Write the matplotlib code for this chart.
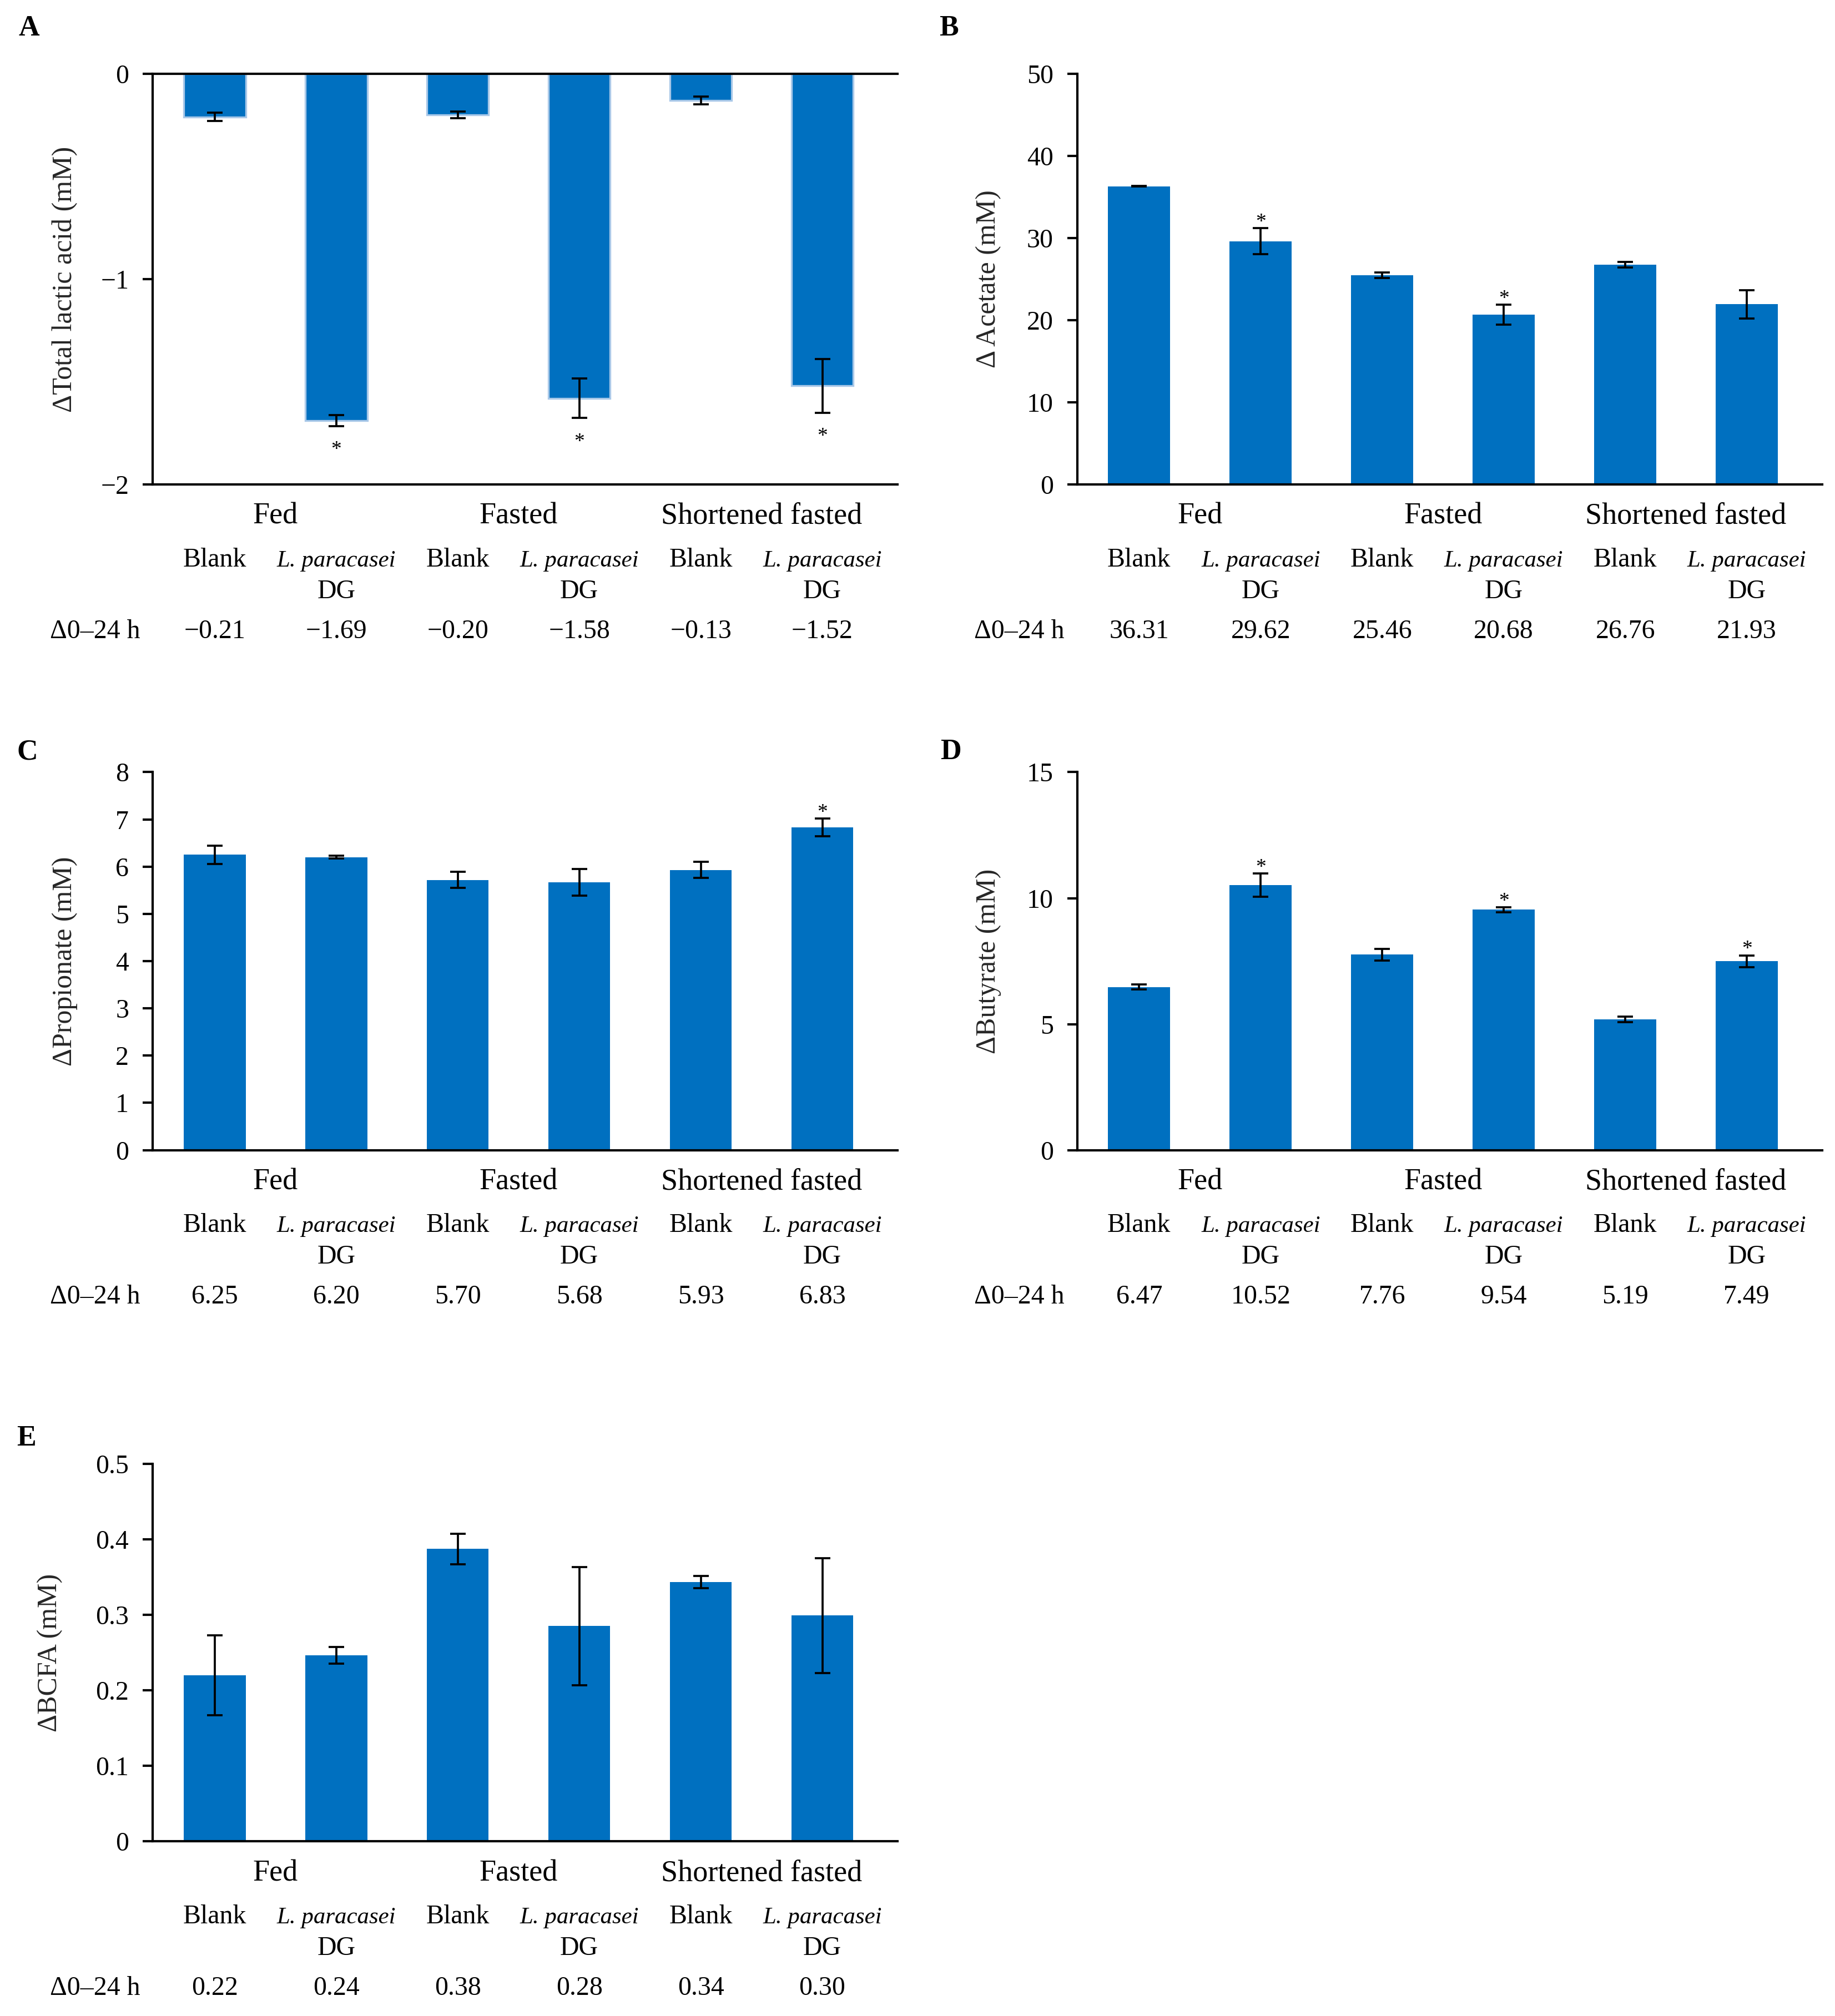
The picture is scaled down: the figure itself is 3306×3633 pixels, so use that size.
import numpy as np
import matplotlib
matplotlib.use("Agg")
import matplotlib.pyplot as plt
from matplotlib.transforms import offset_copy
from matplotlib.ticker import FuncFormatter

plt.rcParams['font.family'] = ['Liberation Serif', 'DejaVu Serif']
plt.rcParams['axes.linewidth'] = 1.0

# ------------------------
# data
# ------------------------
groups = ['Fed', 'Fasted', 'Shortened fasted']
treatments = ['Blank', 'L. paracasei', 'Blank', 'L. paracasei', 'Blank', 'L. paracasei']
dg_row = ['', 'DG', '', 'DG', '', 'DG']

lactic_mean = [-0.21, -1.69, -0.20, -1.58, -0.13, -1.52]
lactic_err = [0.02, 0.027, 0.017, 0.097, 0.02, 0.13]
lactic_sig = [False, True, False, True, False, True]
lactic_table = ['\u22120.21', '\u22121.69', '\u22120.20', '\u22121.58', '\u22120.13', '\u22121.52']

acetate_mean = [36.31, 29.62, 25.46, 20.68, 26.76, 21.93]
acetate_err = [0.05, 1.6, 0.35, 1.2, 0.35, 1.75]
acetate_sig = [False, True, False, True, False, False]
acetate_table = ['36.31', '29.62', '25.46', '20.68', '26.76', '21.93']

propionate_mean = [6.25, 6.20, 5.72, 5.67, 5.93, 6.83]
propionate_err = [0.19, 0.03, 0.17, 0.28, 0.17, 0.19]
propionate_sig = [False, False, False, False, False, True]
propionate_table = ['6.25', '6.20', '5.70', '5.68', '5.93', '6.83']

butyrate_mean = [6.47, 10.52, 7.76, 9.54, 5.19, 7.49]
butyrate_err = [0.1, 0.46, 0.23, 0.1, 0.11, 0.24]
butyrate_sig = [False, True, False, True, False, True]
butyrate_table = ['6.47', '10.52', '7.76', '9.54', '5.19', '7.49']

bcfa_mean = [0.220, 0.246, 0.387, 0.285, 0.343, 0.299]
bcfa_err = [0.053, 0.011, 0.02, 0.078, 0.008, 0.076]
bcfa_sig = [False] * 6
bcfa_table = ['0.22', '0.24', '0.38', '0.28', '0.34', '0.30']

bar_color = '#0070C0'

# ------------------------
# figure
# ------------------------
fig = plt.figure(figsize=(3306 / 300, 3633 / 300), dpi=300)

ax_w = 0.406
row_a = (0.7597, 0.9634)
row_c = (0.4295, 0.617)
row_e = (0.0866, 0.274)
col_l = 0.0832
col_r = 0.587


def fmt_tick(v, pos):
    return ('%g' % v).replace('-', '\u2212')


def draw_panel(rect, letter, letter_xy, mean, err, sig, table, ylim, yticks,
               ylabel, ylabel_x, negative=False):
    ax = fig.add_axes(rect)
    x = np.arange(len(mean))
    if negative:
        ax.bar(x, mean, width=0.51, color=bar_color, edgecolor='#a9c8e8', linewidth=0.8, zorder=2)
    else:
        ax.bar(x, mean, width=0.51, color=bar_color, zorder=2)
    ax.errorbar(x, mean, yerr=err, fmt='none', ecolor='black', elinewidth=0.9,
                capsize=3.4, capthick=0.9, zorder=3)

    # significance stars
    for xi, m, e, s in zip(x, mean, err, sig):
        if not s:
            continue
        if negative:
            ax.annotate('*', (xi, m - e), xytext=(0, -12.5), textcoords='offset points',
                        ha='center', va='baseline', fontsize=9)
        else:
            ax.annotate('*', (xi, m + e), xytext=(0, 0.3), textcoords='offset points',
                        ha='center', va='baseline', fontsize=9)

    ax.set_xlim(-0.51, 5.62)
    ax.set_ylim(*ylim)
    ax.set_yticks(yticks)
    ax.yaxis.set_major_formatter(FuncFormatter(fmt_tick))
    ax.set_xticks([])
    ax.tick_params(axis='y', direction='out', length=4.3, width=1.0, pad=6, labelsize=11.5)
    ax.spines['right'].set_visible(False)
    if not negative:
        ax.spines['top'].set_visible(False)

    ax.set_ylabel(ylabel, fontsize=12, color='#262626', va='center')
    ax.yaxis.set_label_coords(ylabel_x, 0.5)

    # table underneath
    base = ax.get_xaxis_transform()
    t_grp = offset_copy(base, fig=fig, y=-17.0, units='points')
    t_trt = offset_copy(base, fig=fig, y=-35.4, units='points')
    t_dg = offset_copy(base, fig=fig, y=-49.1, units='points')
    t_val = offset_copy(base, fig=fig, y=-66.4, units='points')
    for gi, g in enumerate(groups):
        ax.text(2 * gi + 0.5, 0, g, transform=t_grp, ha='center', va='baseline',
                fontsize=13)
    for xi, (tr, dg, val) in enumerate(zip(treatments, dg_row, table)):
        if tr.startswith('L.'):
            ax.text(xi, 0, tr, transform=t_trt, ha='center', va='baseline',
                    fontsize=10.3, style='italic')
        else:
            ax.text(xi, 0, tr, transform=t_trt, ha='center', va='baseline', fontsize=11.5)
        if dg:
            ax.text(xi, 0, dg, transform=t_dg, ha='center', va='baseline', fontsize=11.5)
        ax.text(xi, 0, val, transform=t_val, ha='center', va='baseline', fontsize=11.5)
    t_lab = offset_copy(ax.transAxes, fig=fig, y=-66.4, units='points')
    ax.text(-0.138, 0, '\u03940\u201324 h', transform=t_lab, ha='left', va='baseline',
            fontsize=11.5)

    fig.text(letter_xy[0], letter_xy[1], letter, fontsize=12.5, fontweight='bold',
             ha='center', va='center')
    return ax


draw_panel([col_l, row_a[0], ax_w, row_a[1] - row_a[0]], 'A', (0.0157, 0.986),
           lactic_mean, lactic_err, lactic_sig, lactic_table, (-2, 0), [-2, -1, 0],
           '\u0394Total lactic acid (mM)', -0.118, negative=True)

draw_panel([col_r, row_a[0], ax_w, row_a[1] - row_a[0]], 'B', (0.517, 0.986),
           acetate_mean, acetate_err, acetate_sig, acetate_table, (0, 50),
           [0, 10, 20, 30, 40, 50], '\u0394 Acetate (mM)', -0.119)

draw_panel([col_l, row_c[0], ax_w, row_c[1] - row_c[0]], 'C', (0.015, 0.627),
           propionate_mean, propionate_err, propionate_sig, propionate_table, (0, 8),
           list(range(9)), '\u0394Propionate (mM)', -0.118)

draw_panel([col_r, row_c[0], ax_w, row_c[1] - row_c[0]], 'D', (0.518, 0.627),
           butyrate_mean, butyrate_err, butyrate_sig, butyrate_table, (0, 15),
           [0, 5, 10, 15], '\u0394Butyrate (mM)', -0.119)

draw_panel([col_l, row_e[0], ax_w, row_e[1] - row_e[0]], 'E', (0.0145, 0.2865),
           bcfa_mean, bcfa_err, bcfa_sig, bcfa_table, (0, 0.5),
           [0, 0.1, 0.2, 0.3, 0.4, 0.5], '\u0394BCFA (mM)', -0.138)

fig.savefig('out.png', dpi=300, facecolor='white')
